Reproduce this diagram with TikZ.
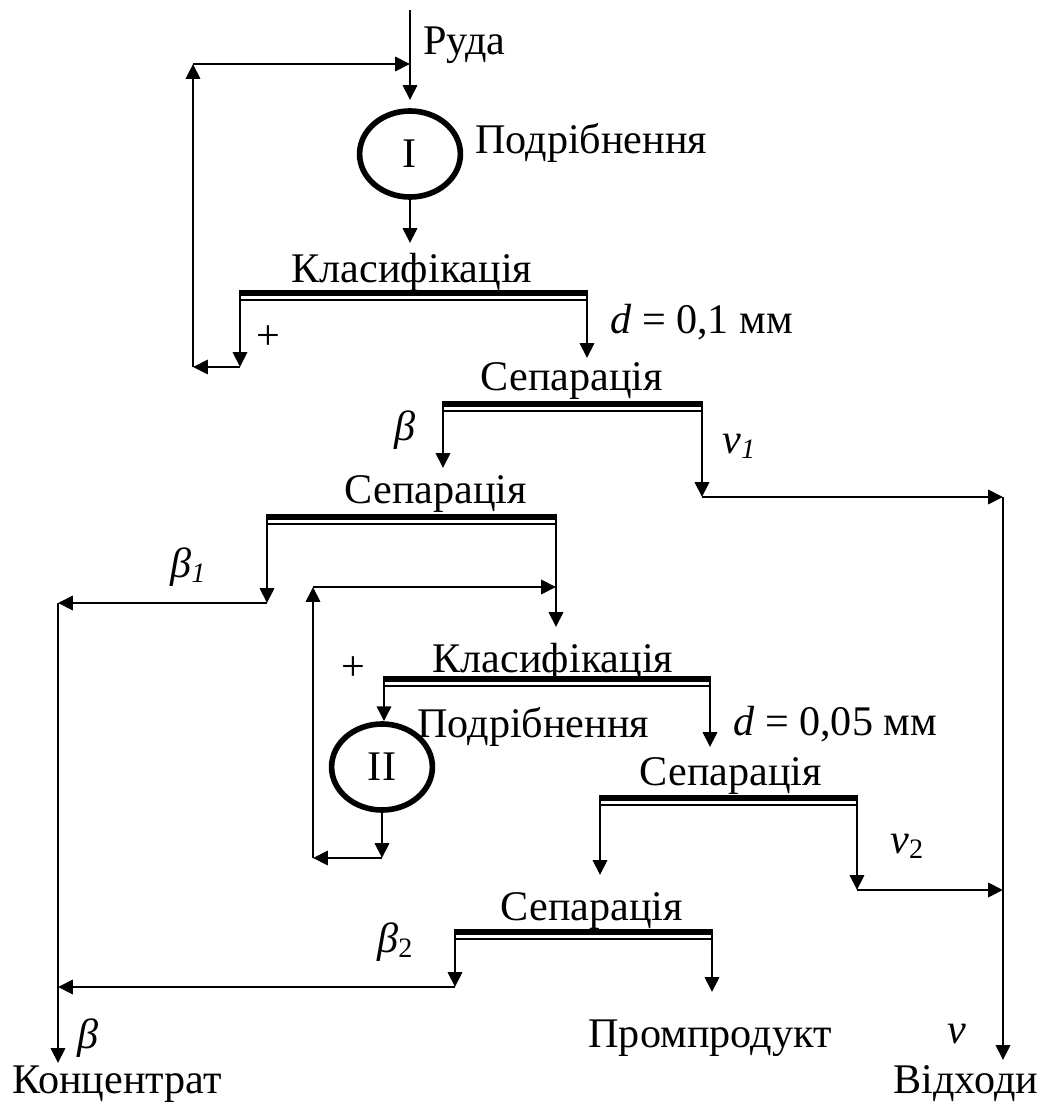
\documentclass[tikz,border=0pt]{standalone}
\usepackage{fontspec}
\setmainfont{Liberation Serif}
\usetikzlibrary{arrows.meta,shapes.geometric}
\newcommand{\ind}[1]{\raisebox{-0.12em}{\fontsize{20}{20}\selectfont #1}}
\newcommand{\grokhot}[4]{% name, left x, right x, top y
  \draw[line width=4.6pt] (#2,#4+3.2) -- (#3,#4+3.2);
  \draw[line width=1.3pt] (#2,#4+10) -- (#3,#4+10);
  \coordinate (#1-l) at (#2,#4);
  \coordinate (#1-r) at (#3,#4);
}
\tikzset{
  potik/.style={-{Triangle[length=10.5pt,width=10pt]}, line width=2.1pt},
  mlyn/.style={ellipse, draw, line width=4pt, minimum width=2.52cm,
               minimum height=2.15cm, inner sep=0pt},
  napys/.style={inner sep=0pt},
}
\begin{document}
\begin{tikzpicture}[x=0.025cm, y=-0.025cm, font=\fontsize{30}{36}\selectfont]
  \useasboundingbox (0,0) rectangle (1046,1104);
  % first stage
  \node[napys, anchor=base west] (ruda) at (423,55) {Руда};
  \node[mlyn] (m1) at (410,154) {I};
  \node[napys, anchor=base west] (m1t) at (475,153) {Подрібнення};
  \node[napys, anchor=base] (k1t) at (412,282) {Класифікація};
  \grokhot{k1}{240}{587}{290}
  \node[napys] (plus1) at (268,338) {+};
  \node[napys, anchor=base west] (d1) at (610,333) {\textit{d} = 0,1 мм};
  \node[napys, anchor=base] (s1t) at (572,390) {Сепарація};
  \grokhot{s1}{443}{702}{401}
  \node[napys, anchor=base] (b) at (405,440) {\textit{β}};
  \node[napys, anchor=base west] (nu1) at (722,453) {\textit{ν}\ind{\textit{1}}};
  \node[napys, anchor=base] (s2t) at (436,503) {Сепарація};
  \grokhot{s2}{267}{556}{514}
  \node[napys, anchor=base west] (b1) at (170,577) {\textit{β}\ind{\textit{1}}};
  % second stage
  \node[napys, anchor=base] (k2t) at (553,672) {Класифікація};
  \grokhot{k2}{384}{710}{676}
  \node[napys] (plus2) at (353,669) {+};
  \node[mlyn] (m2) at (382,767) {II};
  \node[napys, anchor=base west] (m2t) at (417,737) {Подрібнення};
  \node[napys, anchor=base west] (d2) at (733,735) {\textit{d} = 0,05 мм};
  \node[napys, anchor=base] (s3t) at (731,785) {Сепарація};
  \grokhot{s3}{600}{857}{795}
  \node[napys, anchor=base west] (nu2) at (890,853) {\textit{ν}\ind{2}};
  \node[napys, anchor=base] (s4t) at (592,920) {Сепарація};
  \grokhot{s4}{455}{712}{929}
  \node[napys, anchor=base west] (b2) at (377,952) {\textit{β}\ind{2}};
  % products
  \node[napys, anchor=base west] (bk) at (77,1048) {\textit{β}};
  \node[napys, anchor=base] (konc) at (117,1093) {Концентрат};
  \node[napys, anchor=base] (prom) at (710,1047) {Промпродукт};
  \node[napys, anchor=base west] (nu) at (947,1043) {\textit{ν}};
  \node[napys, anchor=base] (vidkh) at (966,1093) {Відходи};
  % connection points
  \coordinate (vkhid) at (410,10);
  \coordinate (m1-in) at (410,100);
  \coordinate (k1-in) at (410,243);
  \coordinate (k1-plus) at (240,367);
  \coordinate (zv1-s) at (193,367);
  \coordinate (zv1-n) at (193,64);
  \coordinate (zv1-e) at (410,64);
  \coordinate (s1-in) at (587,358);
  \coordinate (s2-in) at (443,468);
  \coordinate (v1) at (702,497);
  \coordinate (vidkh-v1) at (1003,497);
  \coordinate (vidkh-out) at (1003,1060);
  \coordinate (b1-out) at (267,603);
  \coordinate (konc-b1) at (58,603);
  \coordinate (konc-out) at (58,1063);
  \coordinate (k2-in) at (556,627);
  \coordinate (zv2-s) at (313,858);
  \coordinate (zv2-n) at (313,587);
  \coordinate (zv2-e) at (556,587);
  \coordinate (m2-out) at (382,858);
  \coordinate (s3-in) at (710,747);
  \coordinate (s4-in) at (600,875);
  \coordinate (v2) at (857,890);
  \coordinate (vidkh-v2) at (1003,890);
  \coordinate (b2-out) at (455,987);
  \coordinate (konc-b2) at (58,987);
  \coordinate (prom-in) at (712,992);
  % flows
  \draw[potik] (vkhid) -- (m1-in);
  \draw[potik] (m1.south) -- (k1-in);
  \draw[potik] (k1-l) -- (k1-plus);
  \draw[potik] (k1-plus) -- (zv1-s);
  \draw[potik] (zv1-s) -- (zv1-n);
  \draw[potik] (zv1-n) -- (zv1-e);
  \draw[potik] (k1-r) -- (s1-in);
  \draw[potik] (s1-l) -- (s2-in);
  \draw[potik] (s1-r) -- (v1);
  \draw[potik] (v1) -- (vidkh-v1);
  \draw[potik] (vidkh-v1) -- (vidkh-out);
  \draw[potik] (s2-l) -- (b1-out);
  \draw[potik] (b1-out) -- (konc-b1);
  \draw[potik] (konc-b1) -- (konc-out);
  \draw[potik] (s2-r) -- (k2-in);
  \draw[potik] (zv2-s) -- (zv2-n);
  \draw[potik] (zv2-n) -- (zv2-e);
  \draw[potik] (k2-l) -- (k2-l |- m2.north);
  \draw[potik] (m2.south) -- (m2-out);
  \draw[potik] (m2-out) -- (zv2-s);
  \draw[potik] (k2-r) -- (s3-in);
  \draw[potik] (s3-l) -- (s4-in);
  \draw[potik] (s3-r) -- (v2);
  \draw[potik] (v2) -- (vidkh-v2);
  \draw[potik] (s4-l) -- (b2-out);
  \draw[potik] (b2-out) -- (konc-b2);
  \draw[potik] (s4-r) -- (prom-in);
\end{tikzpicture}
\end{document}
